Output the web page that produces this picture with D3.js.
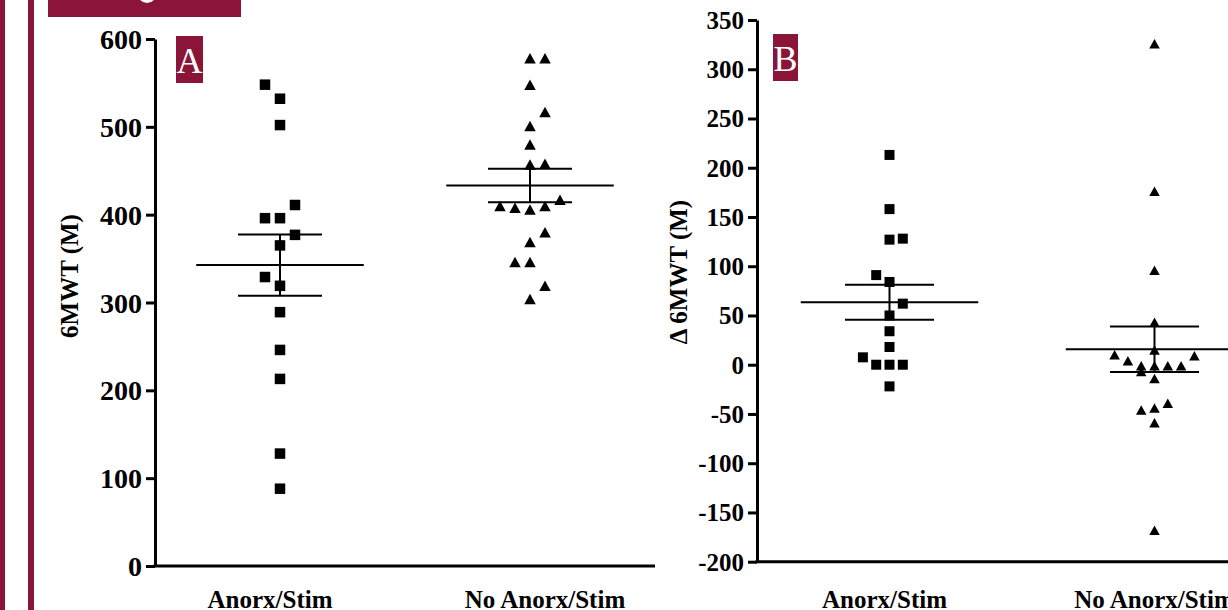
<!DOCTYPE html>
<html><head><meta charset="utf-8">
<script src="https://cdn.jsdelivr.net/npm/d3@7"></script>
<style>body{margin:0;background:#fff}svg{display:block}</style>
</head><body><svg id="c" width="1228" height="610"></svg>
<script>
// ---- data ----
const categories = ["Anorx/Stim", "No Anorx/Stim"];
const ticksA = [0, 100, 200, 300, 400, 500, 600];
const ticksB = [-200, -150, -100, -50, 0, 50, 100, 150, 200, 250, 300, 350];
const walkAnorx = [548, 532, 502, 411, 396, 396, 377, 365, 329, 319, 289, 246, 213, 128, 88];
const walkNoAnorx = [578, 578, 548, 517, 501, 480, 457, 458, 410, 408, 406, 410, 417, 380, 369, 346, 346, 319, 304];
const deltaAnorx = [213, 158, 127, 128, 91, 84, 62, 50, 34, 18, 7.5, 0, 0, 0, -22];
const deltaNoAnorx = [326, 176, 96, 43, 10, 4, -1, -7, 15, -1, -1, -1, 9, -14, -46, -44, -39, -59, -168];

// ---- layout (dodge slots so overlapping points sit side by side) ----
const dodgeWalkAnorx = [-1, 0, 0, 1, -1, 0, 1, 0, -1, 0, 0, 0, 0, 0, 0];
const dodgeWalkNo = [0, 1, 0, 1, 0, 0, 0, 1, -2, -1, 0, 1, 2, 1, 0, -1, 0, 1, 0];
const dodgeDeltaAnorx = [0, 0, 0, 1, -1, 0, 1, 0, 0, 0, -2, -1, 0, 1, 0];
const dodgeDeltaNo = [0, 0, 0, 0, -3, -2, -1, -1, 0, 0, 1, 2, 3, 0, -1, 0, 1, 0, 0];

const MAROON = "#8a1538";
const SERIF = "'Liberation Serif','Times New Roman',serif";
const svg = d3.select("#c");

// decorative frame
svg.append("rect").attr("x", 0).attr("y", 0).attr("width", 5).attr("height", 610).attr("fill", MAROON);
svg.append("rect").attr("x", 28).attr("y", 0).attr("width", 6).attr("height", 610).attr("fill", MAROON);
svg.append("rect").attr("x", 48).attr("y", 0).attr("width", 193).attr("height", 17).attr("fill", MAROON);
svg.append("ellipse").attr("cx", 147).attr("cy", -8).attr("rx", 10).attr("ry", 11).attr("fill", "#fff");

function panel(cfg) {
  const g = svg.append("g");
  const x = d3.scalePoint().domain(categories).range(cfg.xRange).padding(0.5);
  const y = d3.scaleLinear().domain(cfg.yDomain).range(cfg.yRange);
  const step = x.step();

  // y axis
  const yAx = g.append("g").attr("transform", `translate(${cfg.xRange[0]},0)`)
    .call(d3.axisLeft(y).tickValues(cfg.ticks).tickFormat(d => String(d))
      .tickSize(9).tickSizeOuter(0).tickPadding(4));
  yAx.select(".domain").attr("stroke", "#000").attr("stroke-width", 3);
  yAx.selectAll(".tick line").attr("stroke", "#000").attr("stroke-width", 3);
  yAx.selectAll(".tick text").attr("font-family", SERIF).attr("font-weight", "bold")
    .attr("font-size", cfg.tickFont).attr("fill", "#000").attr("dy", "0.34em");

  // x axis line
  g.append("line").attr("x1", cfg.xRange[0] - 1.5).attr("x2", cfg.xRange[1])
    .attr("y1", y(cfg.yDomain[0])).attr("y2", y(cfg.yDomain[0]))
    .attr("stroke", "#000").attr("stroke-width", 3);

  // category labels
  categories.forEach((c, i) => {
    g.append("text").attr("x", x(c) + cfg.labelDx[i]).attr("y", 608)
      .attr("text-anchor", "middle").attr("font-family", SERIF).attr("font-weight", "bold")
      .attr("font-size", 25).text(c);
  });

  // y title
  g.append("text").attr("transform", `translate(${cfg.titleX},${cfg.titleY}) rotate(-90)`)
    .attr("text-anchor", "middle").attr("font-family", SERIF).attr("font-weight", "bold")
    .attr("font-size", 25).text(cfg.title);

  // panel letter box
  g.append("rect").attr("x", cfg.box[0]).attr("y", cfg.box[1]).attr("width", cfg.box[2]).attr("height", cfg.box[3]).attr("fill", MAROON);
  g.append("text").attr("x", cfg.box[0] + cfg.box[2] / 2).attr("y", cfg.box[1] + cfg.box[3] - 10)
    .attr("text-anchor", "middle").attr("font-family", SERIF).attr("font-size", 36).attr("fill", "#fff").text(cfg.letter);

  // series
  cfg.series.forEach((s, si) => {
    const cx = x(categories[si]);
    const m = d3.mean(s.values);
    const sem = d3.deviation(s.values) / Math.sqrt(s.values.length);
    const mk = g.append("g");
    s.values.forEach((v, i) => {
      const px = cx + s.dodge[i] * cfg.dodgeUnit, py = y(v);
      if (s.shape === "square") {
        mk.append("rect").attr("x", px - cfg.sq / 2).attr("y", py - cfg.sq / 2)
          .attr("width", cfg.sq).attr("height", cfg.sq).attr("fill", "#000");
      } else {
        const w = cfg.tri[0], h = cfg.tri[1];
        mk.append("path").attr("d", `M${px},${py - h / 2}L${px + w / 2},${py + h / 2}L${px - w / 2},${py + h / 2}Z`).attr("fill", "#000");
      }
    });
    const lw = 2;
    g.append("line").attr("x1", cx - step * 0.335).attr("x2", cx + step * 0.335)
      .attr("y1", y(m)).attr("y2", y(m)).attr("stroke", "#000").attr("stroke-width", lw);
    [m + sem, m - sem].forEach(v => {
      g.append("line").attr("x1", cx - step * 0.168).attr("x2", cx + step * 0.168)
        .attr("y1", y(v)).attr("y2", y(v)).attr("stroke", "#000").attr("stroke-width", lw);
    });
    g.append("line").attr("x1", cx).attr("x2", cx).attr("y1", y(m + sem)).attr("y2", y(m - sem))
      .attr("stroke", "#000").attr("stroke-width", lw);
  });
}

panel({
  xRange: [155, 655], yDomain: [0, 600], yRange: [566, 39], ticks: ticksA, tickFont: 28,
  labelDx: [-10, 15], title: "6MWT (M)", titleX: 78, titleY: 276,
  box: [176, 36, 27, 47], letter: "A", dodgeUnit: 15, sq: 10.5, tri: [11.5, 10.5],
  series: [
    { values: walkAnorx, dodge: dodgeWalkAnorx, shape: "square" },
    { values: walkNoAnorx, dodge: dodgeWalkNo, shape: "triangle" }
  ]
});
panel({
  xRange: [757, 1287], yDomain: [-200, 350], yRange: [561.7, 20], ticks: ticksB, tickFont: 25,
  labelDx: [-5, 0], title: "\u0394 6MWT (M)", titleX: 687, titleY: 272,
  box: [773, 34, 25, 47], letter: "B", dodgeUnit: 13.3, sq: 10, tri: [10.5, 9.5],
  series: [
    { values: deltaAnorx, dodge: dodgeDeltaAnorx, shape: "square" },
    { values: deltaNoAnorx, dodge: dodgeDeltaNo, shape: "triangle" }
  ]
});
</script></body></html>
